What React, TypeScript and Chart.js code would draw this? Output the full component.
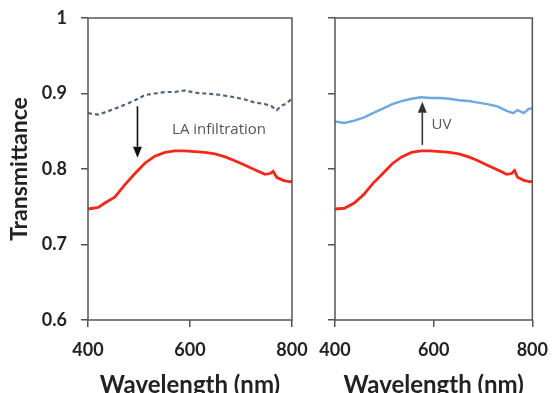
import React, { useEffect, useRef } from "react";
import { Chart, registerables } from "chart.js";

Chart.register(...registerables);

// ---- data ----
const leftDashedWl = [400, 420, 433, 453, 472, 492, 512, 531, 551, 570, 590, 610, 629, 649, 669, 688, 708, 727, 747, 760, 770, 780, 790, 796, 800];
const leftDashedT = [0.874, 0.872, 0.875, 0.88, 0.885, 0.891, 0.898, 0.9, 0.902, 0.902, 0.904, 0.901, 0.9, 0.899, 0.897, 0.895, 0.892, 0.888, 0.886, 0.883, 0.878, 0.884, 0.887, 0.891, 0.889];

const leftRedWl = [400, 420, 433, 453, 472, 492, 512, 531, 551, 570, 590, 610, 629, 649, 669, 688, 708, 727, 747, 757, 763, 770, 783, 796, 800];
const leftRedT = [0.747, 0.749, 0.755, 0.763, 0.779, 0.794, 0.808, 0.817, 0.822, 0.824, 0.824, 0.823, 0.822, 0.82, 0.816, 0.811, 0.805, 0.799, 0.793, 0.794, 0.797, 0.789, 0.785, 0.783, 0.784];

const rightBlueWl = [400, 419, 439, 458, 477, 497, 516, 535, 555, 574, 593, 613, 632, 651, 671, 690, 709, 729, 748, 761, 770, 783, 793, 800];
const rightBlueT = [0.863, 0.861, 0.864, 0.868, 0.874, 0.88, 0.886, 0.89, 0.893, 0.895, 0.894, 0.894, 0.893, 0.891, 0.89, 0.888, 0.886, 0.883, 0.877, 0.874, 0.878, 0.874, 0.88, 0.88];

const rightRedWl = [400, 419, 439, 458, 477, 497, 516, 535, 555, 574, 593, 613, 632, 651, 671, 690, 709, 729, 748, 758, 764, 770, 783, 796, 800];
const rightRedT = [0.747, 0.748, 0.755, 0.766, 0.781, 0.794, 0.807, 0.816, 0.822, 0.824, 0.824, 0.823, 0.822, 0.82, 0.816, 0.811, 0.805, 0.799, 0.793, 0.794, 0.798, 0.789, 0.785, 0.783, 0.784];

const xTicks = [400, 600, 800];
const yTicks = [0.6, 0.7, 0.8, 0.9, 1];

const leftArrow = { wl: 497, from: 0.883, to: 0.815, color: "#111111" };
const leftNote = { wl: 657, t: 0.852, text: "LA infiltration" };
const rightArrow = { wl: 577, from: 0.832, to: 0.889, color: "#333333" };
const rightNote = { wl: 616, t: 0.858, text: "UV" };

const FONT = "Lato";
const AXIS_COLOR = "#555555";
const TEXT_COLOR = "#222222";

const toPts = (xs: number[], ys: number[]) => xs.map((x, i) => ({ x, y: ys[i] }));

const framePlugin = {
  id: "frame",
  afterDatasetsDraw(chart: any) {
    const { ctx, chartArea } = chart;
    const { left, top, right, bottom } = chartArea;
    ctx.save();
    ctx.strokeStyle = AXIS_COLOR;
    ctx.lineWidth = 1.5;
    ctx.strokeRect(left, top, right - left, bottom - top);
    ctx.restore();
  },
};

const makeNotePlugin = (arrow: any, note: any) => ({
  id: "note",
  afterDatasetsDraw(chart: any) {
    const { ctx, scales } = chart;
    const x = scales.x.getPixelForValue(arrow.wl);
    const y0 = scales.y.getPixelForValue(arrow.from);
    const y1 = scales.y.getPixelForValue(arrow.to);
    const dir = y1 > y0 ? 1 : -1;
    const headLen = 11;
    const headHalf = 4.5;
    ctx.save();
    ctx.strokeStyle = arrow.color;
    ctx.fillStyle = arrow.color;
    ctx.lineWidth = 1.6;
    ctx.beginPath();
    ctx.moveTo(x, y0);
    ctx.lineTo(x, y1 - dir * headLen);
    ctx.stroke();
    ctx.beginPath();
    ctx.moveTo(x, y1);
    ctx.lineTo(x - headHalf, y1 - dir * headLen);
    ctx.lineTo(x + headHalf, y1 - dir * headLen);
    ctx.closePath();
    ctx.fill();
    ctx.fillStyle = "#555555";
    ctx.font = `15px 'Open Sans'`;
    ctx.textAlign = "center";
    ctx.textBaseline = "middle";
    ctx.fillText(note.text, scales.x.getPixelForValue(note.wl), scales.y.getPixelForValue(note.t));
    ctx.restore();
  },
});

function Panel(props: {
  left: number;
  width: number;
  yAxisWidth: number;
  padRight: number;
  showYLabels: boolean;
  datasets: any[];
  arrow: any;
  note: any;
}) {
  const ref = useRef<HTMLCanvasElement | null>(null);
  useEffect(() => {
    if (!ref.current) return;
    const chart = new Chart(ref.current, {
      type: "line",
      data: { datasets: props.datasets },
      options: {
        responsive: false,
        animation: false,
        devicePixelRatio: 1,
        layout: { padding: { top: 18, right: props.padRight, bottom: 0, left: 0 } },
        plugins: { legend: { display: false }, tooltip: { enabled: false } },
        elements: { point: { radius: 0 } },
        scales: {
          x: {
            type: "linear",
            min: 400,
            max: 800,
            afterBuildTicks: (axis: any) => {
              axis.ticks = xTicks.map((v) => ({ value: v }));
            },
            afterFit: (axis: any) => {
              axis.height = 80;
            },
            grid: { drawOnChartArea: false, drawTicks: true, tickLength: 7, color: AXIS_COLOR, lineWidth: 1.5 },
            border: { display: false },
            ticks: {
              color: TEXT_COLOR,
              font: { family: FONT, size: 18, weight: "bold" },
              padding: 12,
              maxRotation: 0,
              autoSkip: false,
            },
            title: {
              display: true,
              text: "Wavelength (nm)",
              color: TEXT_COLOR,
              font: { family: FONT, size: 24, weight: "bold" },
              padding: { top: 0, bottom: 0 },
            },
          },
          y: {
            type: "linear",
            min: 0.6,
            max: 1,
            afterBuildTicks: (axis: any) => {
              axis.ticks = yTicks.map((v) => ({ value: v }));
            },
            afterFit: (axis: any) => {
              axis.width = props.yAxisWidth;
              axis.paddingTop = 0;
              axis.paddingBottom = 0;
            },
            grid: { drawOnChartArea: false, drawTicks: true, tickLength: 7, color: AXIS_COLOR, lineWidth: 1.5 },
            border: { display: false },
            ticks: {
              display: props.showYLabels,
              color: TEXT_COLOR,
              font: { family: FONT, size: 18, weight: "bold" },
              padding: 14,
              callback: (v: any) => String(Math.round(Number(v) * 10) / 10),
            },
            title: {
              display: props.showYLabels,
              text: "Transmittance",
              color: TEXT_COLOR,
              font: { family: FONT, size: 23, weight: "bold" },
              padding: { top: 6, bottom: 0 },
            },
          },
        },
      },
      plugins: [framePlugin, makeNotePlugin(props.arrow, props.note)],
    } as any);
    return () => chart.destroy();
  }, []);
  return (
    <canvas
      ref={ref}
      width={props.width}
      height={400}
      style={{ position: "absolute", left: props.left, top: 0, width: props.width, height: 400 }}
    />
  );
}

export default function App() {
  const leftDatasets = [
    {
      data: toPts(leftDashedWl, leftDashedT),
      borderColor: "#52647c",
      borderWidth: 2.2,
      borderDash: [4, 3],
      tension: 0,
      fill: false,
    },
    {
      data: toPts(leftRedWl, leftRedT),
      borderColor: "#f5261a",
      borderWidth: 2.8,
      tension: 0,
      fill: false,
    },
  ];
  const rightDatasets = [
    {
      data: toPts(rightBlueWl, rightBlueT),
      borderColor: "#6fa8dc",
      borderWidth: 2.4,
      tension: 0,
      fill: false,
    },
    {
      data: toPts(rightRedWl, rightRedT),
      borderColor: "#f5261a",
      borderWidth: 2.8,
      tension: 0,
      fill: false,
    },
  ];
  return (
    <div
      style={{
        position: "absolute",
        left: 0,
        top: 0,
        width: 560,
        height: 393,
        overflow: "hidden",
        background: "#ffffff",
      }}
    >
      <Panel
        left={0}
        width={320}
        yAxisWidth={88}
        padRight={28}
        showYLabels={true}
        datasets={leftDatasets}
        arrow={leftArrow}
        note={leftNote}
      />
      <Panel
        left={300}
        width={260}
        yAxisWidth={35}
        padRight={18}
        showYLabels={false}
        datasets={rightDatasets}
        arrow={rightArrow}
        note={rightNote}
      />
    </div>
  );
}
